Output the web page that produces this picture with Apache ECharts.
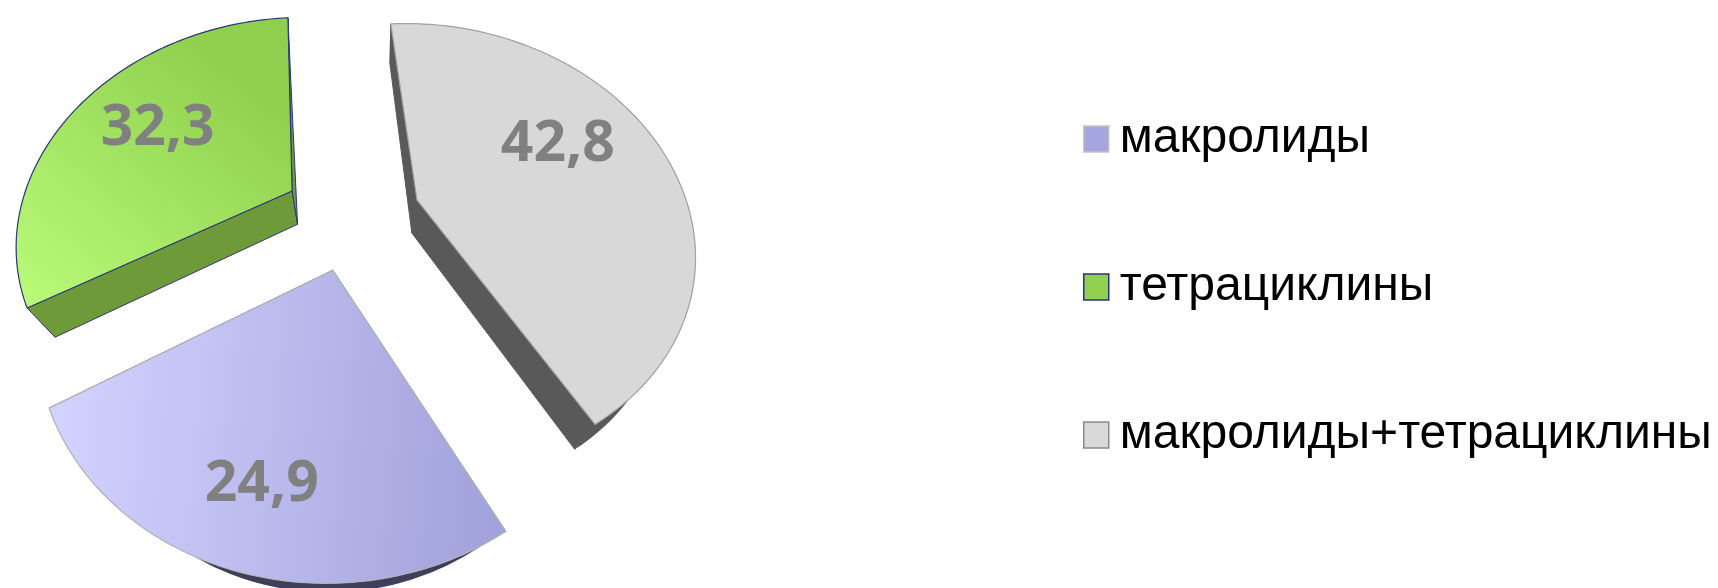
<!DOCTYPE html>
<html>
<head>
<meta charset="utf-8">
<style>html,body{margin:0;padding:0;background:#fff}#c{width:1718px;height:588px}</style>
<script src="https://cdn.jsdelivr.net/npm/echarts@6/dist/echarts.min.js"></script>
</head>
<body>
<div id="c"></div>
<script>
var categories = ['макролиды', 'тетрациклины', 'макролиды+тетрациклины'];
var values = [24.9, 32.3, 42.8];

// Presentation: perspective camera and per-slice styling
var START_DEG = 150.08, RADIUS_X = 296, RADIUS_FAR = 308, RADIUS_NEAR = 304, EXPLODE = 75;
var CENTER = [-4.6, -108.8];
var CAM = {cx: 356, horizon: -800, height: 1100, p: 1 / 1307};
var STYLES = [
  {top: {type:'linear', x:60, y:400, x2:500, y2:445, global:true,
         colorStops:[{offset:0,color:'#d2d2ff'},{offset:1,color:'#a2a2dc'}]},
   edge:'#b4b4b4', side:'#3f3f5c', sideEdge:'#3f3f5c', swatch:'#a5a5e0', box:'#c4c4c4',
   labelR:229, labelD:-0.5},
  {top: {type:'linear', x:30, y:300, x2:230, y2:60, global:true,
         colorStops:[{offset:0,color:'#b8fa78'},{offset:1,color:'#90cf4e'}]},
   edge:'#2c3878', side:'#6f9a3a', sideEdge:'#2c3878', swatch:'#92d050', box:'#2c3080',
   labelR:194, labelD:4},
  {top:'#d8d8d8', edge:'#a2a2a2', side:'#595959', sideEdge:'#595959', swatch:'#d9d9d9', box:'#8a8a8a',
   labelR:191, labelD:-11}
];

function project(X, Y) {
  var s = 1 / (1 - CAM.p * Y);
  return [CAM.cx + X * s, CAM.horizon + CAM.height * s];
}
function thicknessAt(y) {
  if (y <= 423) return 40 - 0.035 * y;
  if (y <= 530) return 25.2 - (y - 423) * 0.18;
  return 6 + (y - 530) * 0.06;
}
function lower(pt) {
  var shrink = 0.02 + 0.065 * Math.min(1, Math.max(0, pt[1]) / 190);
  return [CAM.cx + (pt[0] - CAM.cx) * (1 - shrink), pt[1] + thicknessAt(pt[1])];
}
function dir(deg) {
  var r = deg * Math.PI / 180;
  return [Math.sin(r), -Math.cos(r)];
}
var total = values.reduce(function (a, b) { return a + b; }, 0);

function sliceRange(i) {
  var before = 0;
  for (var k = 0; k < i; k++) before += values[k];
  var a0 = START_DEG + before / total * 360;
  return [a0, a0 + values[i] / total * 360];
}

function makeRender(i) {
  return function (params, api) {
    var v = api.value(0);
    var range = sliceRange(i);
    var a0 = range[0], a1 = range[1], mid = (a0 + a1) / 2;
    var m = dir(mid);
    var ax = CENTER[0] + m[0] * EXPLODE, ay = CENTER[1] + m[1] * EXPLODE;
    var arc = [];
    var N = 90;
    for (var t = 0; t <= N; t++) {
      var d = dir(a0 + (a1 - a0) * t / N);
      arc.push(project(ax + d[0] * RADIUS_X, ay + d[1] * (d[1] < 0 ? RADIUS_FAR : RADIUS_NEAR)));
    }
    var apex = project(ax, ay);
    var st = STYLES[i];
    var children = [];
    var arcLow = arc.map(lower), apexLow = lower(apex);
    children.push({type:'polygon', shape:{points:arc.concat(arcLow.slice().reverse())},
      style:{fill:st.side, stroke:null}});
    function sideFace(points) {
      children.push({type:'polygon', shape:{points:points},
        style:{fill:st.side, stroke:st.sideEdge, lineWidth:1}});
    }
    sideFace([apex, arc[0], arcLow[0], apexLow]);
    sideFace([apex, arc[N], arcLow[N], apexLow]);
    children.push({type:'polygon', shape:{points:[apex].concat(arc)},
      style:{fill:st.top, stroke:st.edge, lineWidth:1.2, lineJoin:'round'}});
    var ld = dir(mid + st.labelD);
    var lp = project(ax + ld[0] * st.labelR, ay + ld[1] * st.labelR);
    children.push({type:'text', style:{
      text:String(v).replace('.', ','), x:lp[0], y:lp[1] + 3,
      align:'center', verticalAlign:'middle',
      fill:'#808080', font:'bold 57px "Open Sans", sans-serif'}});
    return {type:'group', children:children};
  };
}

var chart = echarts.init(document.getElementById('c'), null, {renderer:'canvas', width:1718, height:588});
chart.setOption({
  animation:false,
  backgroundColor:'#ffffff',
  legend:{
    orient:'vertical', left:1078, top:110,
    itemWidth:25, itemHeight:26, itemGap:100, icon:'rect',
    textStyle:{fontFamily:'"Liberation Sans Narrow", "Liberation Sans", sans-serif', fontSize:48, color:'#000', padding:[22,0,0,6]},
    selectedMode:false,
    data:categories.map(function (c, i) {
      return {name:c, itemStyle:{color:STYLES[i].swatch, borderColor:STYLES[i].box, borderWidth:1.5}};
    })
  },
  series:categories.map(function (c, i) {
    return {
      type:'custom', name:c, coordinateSystem:'none',
      renderItem:makeRender(i),
      data:[[values[i]]],
      silent:true
    };
  })
});
</script>
</body>
</html>
